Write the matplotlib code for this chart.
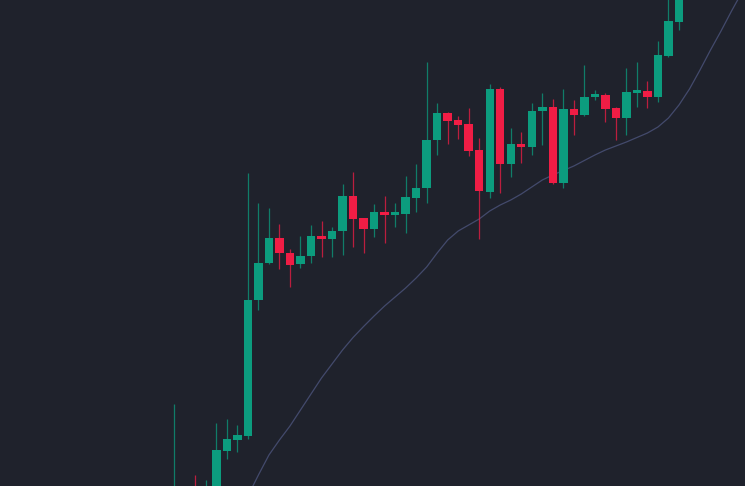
import numpy as np
import matplotlib
matplotlib.use("Agg")
import matplotlib.pyplot as plt

# candle data (index, open, high, low, close)
idx = list(range(49))
opens = [-34, -19, -6, -24, -14, 35, 46, 50, 186, 223, 248, 233, 222, 230, 250, 247,
         255, 290, 268, 257, 273, 271, 272, 288, 298, 346, 373, 366, 362, 336, 294, 397,
         322, 342, 339, 375, 379, 303, 377, 371, 389, 391, 378, 368, 393, 395, 389, 430, 464]
highs = [82, -4, 11, 6, 63, 67, 61, 313, 283, 278, 262, 237, 250, 261, 265, 259,
         302, 314, 268, 282, 290, 283, 310, 322, 424, 383, 374, 370, 378, 348, 402, 399,
         358, 354, 383, 393, 387, 397, 386, 421, 396, 393, 379, 418, 424, 405, 445, 491, 516]
lows = [-44, -29, -24, -29, -19, 27, 34, 47, 176, 222, 217, 199, 218, 223, 229, 229,
        231, 239, 233, 249, 243, 259, 253, 274, 283, 331, 342, 347, 330, 247, 288, 293,
        309, 323, 331, 341, 302, 298, 351, 370, 386, 364, 346, 351, 379, 378, 384, 429, 456]
closes = [-14, -9, -19, -6, 36, 47, 51, 186, 223, 248, 233, 221, 230, 250, 247, 255,
          290, 267, 257, 274, 271, 273, 289, 298, 346, 373, 365, 361, 335, 295, 397, 322,
          342, 339, 375, 379, 303, 377, 371, 389, 391, 377, 368, 394, 395, 389, 431, 465, 506]

# moving average line
ma_idx = list(range(7, 55))
ma_vals = [-10, 11, 31, 46, 60, 76, 92, 108, 122, 136, 148.5, 159.5, 170, 180, 189, 198,
           208, 219, 233, 246, 255, 261, 267, 275, 281, 286, 292, 299, 306, 311, 315.5, 320,
           325.5, 331, 336, 340, 344, 348.5, 353, 359, 368, 381, 397, 416, 436, 455, 475, 494]

BG = "#1f222c"
UP = "#0c9c7e"
DOWN = "#f01d45"
MA_COLOR = "#434a6c"

fig = plt.figure(figsize=(7.45, 4.86), dpi=100, facecolor=BG)
ax = fig.add_axes([0, 0, 1, 1])
ax.set_facecolor(BG)

o = np.array(opens, dtype=float)
c = np.array(closes, dtype=float)
colors = [UP if cc >= oo else DOWN for oo, cc in zip(o, c)]

ax.vlines(idx, lows, highs, colors=colors, linewidth=0.9, alpha=0.75, zorder=2)
bottoms = np.minimum(o, c)
heights = np.maximum(np.abs(c - o), 2.5)
ax.bar(idx, heights, bottom=bottoms, width=0.8, color=colors, linewidth=0, zorder=3)

ax.plot(ma_idx, ma_vals, color=MA_COLOR, linewidth=0.9, zorder=1)

ax.set_xlim(-16.58, 54.28)
ax.set_ylim(0, 486)
ax.axis("off")

plt.savefig("out.png", dpi=100, facecolor=BG)
plt.close()
